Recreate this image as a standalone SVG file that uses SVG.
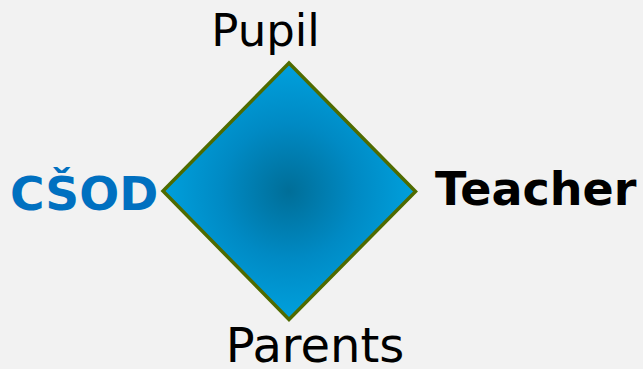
<svg xmlns="http://www.w3.org/2000/svg" width="643" height="369" viewBox="0 0 643 369">
  <defs>
    <radialGradient id="g" gradientUnits="userSpaceOnUse" cx="289" cy="191" r="135">
      <stop offset="0" stop-color="#006e98"/>
      <stop offset="0.5" stop-color="#008ac4"/>
      <stop offset="1" stop-color="#00a3e0"/>
    </radialGradient>
  </defs>
  <style>
    .t { font-family: "DejaVu Sans", Verdana, sans-serif; font-size: 45px; fill: #000; }
    .b { font-weight: bold; }
  </style>
  <rect width="643" height="369" fill="#f2f2f2"/>
  <g id="diamond">
    <polygon points="289,63 415.5,191.5 289,319.5 163,191" fill="url(#g)" stroke="#4f6b00" stroke-width="3.5" stroke-linejoin="miter"/>
  </g>
  <g id="pupil"><text class="t" x="265.5" y="46" text-anchor="middle">Pupil</text></g>
  <g id="parents"><text class="t" x="315" y="362" text-anchor="middle" style="font-size:48px">Parents</text></g>
  <g id="teacher"><text class="t b" x="435" y="205" style="font-size:46px">Teacher</text></g>
  <g id="csod"><text class="t b" x="10" y="210" style="fill:#0070c0;font-size:47px">CŠOD</text></g>
</svg>
